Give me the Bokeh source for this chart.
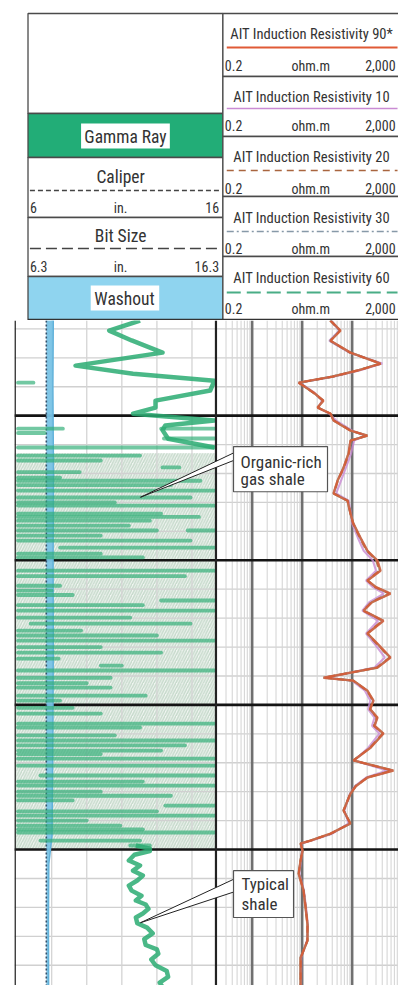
import math
from bokeh.plotting import figure
from bokeh.layouts import column
from bokeh.models import Range1d, LogScale
from bokeh.core.properties import value
from bokeh.embed import file_html
from bokeh.resources import INLINE

FONT = "'Roboto Condensed', 'Liberation Sans Narrow', 'DejaVu Sans Condensed', sans-serif"
NaN = float("nan")

# ---------------- data ----------------
# Gamma ray (API) vs depth (ft): continuous curve above and below the gas shale
gr_depth = [
    5017.1, 5020.6, 5024.0, 5028.2, 5032.7, 5035.5, 5037.9, 5041.3, 5044.8, 5047.2, 5049.3, 5051.7,
    5053.4, 5055.0, 5058.0, 5061.0, NaN,
    5198.6, 5199.7, 5200.5, 5201.8, 5203.8, 5205.5, 5207.3, 5209.0, 5210.7, 5212.5, 5214.2, 5216.0,
    5217.6, 5219.0, 5220.5, 5222.1, 5223.5, 5225.5, 5227.0, 5229.0, 5231.0, 5233.0, 5234.5, 5236.0,
    5238.0, 5240.0, 5242.0, 5244.0, 5246.0, 5247.5]
gr_api = [
    88, 66, 82, 104, 42, 83, 141, 138, 99, 99, 83, 141,
    106, 104, 108, 141, NaN,
    85, 95, 95, 84, 80, 88, 83, 90, 86, 80, 82, 89,
    85, 92, 94, 90, 85, 86, 93, 97, 91, 92, 100, 101,
    96, 99, 107, 108, 102, 104]
# gamma-ray streaks in the organic-rich shale (off-scale / wrapped readings)
streak_depth = [5038.6, 5054.5, 5054.5, 5057.9, 5061.0, 5063.8, 5067.9, 5071.4, 5072.5, 5075.9,
                5078.3, 5081.1, 5083.9, 5086.3, 5089.7, 5089.7, 5093.2, 5095.6, 5097.7,
                5103.6, 5108.8, 5110.5, 5113.9, 5117.4, 5119.8, 5121.9, 5124.3, 5127.8, 5131.9,
                5136.4, 5138.1, 5140.6, 5144.0, 5146.8, 5148.5,
                5153.0, 5156.5, 5157.8, 5162.3, 5165.8, 5168.6, 5171.0, 5174.4, 5177.9, 5181.4,
                5184.8, 5188.3, 5191.7, 5194.1, 5196.9, 5198.6,
                5056.0, 5065.5, 5069.5, 5074.0, 5080.0, 5085.0, 5088.0, 5091.5, 5099.0,
                5105.5, 5112.0, 5115.5, 5126.0, 5130.0, 5134.0, 5142.5, 5151.0, 5160.5,
                5164.0, 5167.0, 5176.5, 5180.0, 5183.0, 5186.8, 5190.0, 5193.0]
streak_from = [1, 1, 103, 105, 1, 1, 104, 1, 1, 1,
               1, 1, 1, 1, 1, 122, 1, 31, 1,
               1, 1, 1, 103, 1, 1, 10, 1, 1, 1,
               60, 1, 1, 1, 1, 1,
               1, 1, 1, 1, 1, 1, 1, 17, 1, 1,
               106, 1, 1, 1, 17, 81,
               1, 1, 1, 1, 1, 1, 1, 1, 1,
               1, 1, 1, 1, 1, 1, 1, 1, 1,
               1, 1, 1, 1, 1, 1, 1, 1]
streak_to = [12, 33, 141, 141, 141, 88, 116, 31, 131, 141,
             124, 141, 103, 95, 100, 141, 124, 141, 60,
             141, 31, 25, 141, 141, 81, 124, 46, 141, 103,
             75, 141, 67, 67, 92, 31,
             60, 141, 88, 141, 103, 141, 141, 141, 141, 110,
             141, 141, 74, 141, 88, 95,
             20, 60, 45, 110, 70, 130, 80, 60, 90,
             120, 40, 90, 100, 60, 30, 50, 40, 70,
             120, 60, 90, 60, 40, 100, 50, 90]

# Caliper (in) and bit size (in)
cal_depth = [5017, 5040, 5070, 5100, 5130, 5160, 5195, 5205, 5225, 5248]
cal_in = [7.92, 7.90, 7.93, 7.91, 7.92, 7.90, 7.86, 7.70, 7.68, 7.69]
bit_size_in = 7.875

# AIT induction resistivities (ohm.m)
res_depth = [
    5017.1, 5020.6, 5024.1, 5028.2, 5032.0, 5034.4, 5036.5, 5038.6, 5042.0, 5044.8,
    5047.2, 5049.3, 5051.7, 5055.2, 5056.9, 5058.6, 5063.1, 5068.0, 5072.5, 5076.9,
    5079.4, 5083.9, 5087.3, 5092.2, 5096.7, 5100.1, 5103.6, 5107.0, 5109.3, 5111.5,
    5114.5, 5117.4, 5120.9, 5125.3, 5129.5, 5133.6, 5137.1, 5140.6, 5141.6, 5145.1,
    5148.5, 5151.5, 5154.4, 5157.2, 5159.9, 5164.8, 5169.2, 5172.7, 5175.1, 5178.0,
    5180.7, 5186.5, 5191.0, 5194.5, 5196.9, 5197.9, 5200.3, 5203.8, 5208.3, 5214.0,
    5220.1, 5226.0, 5231.5, 5237.4, 5248.0]
r90 = [36.9, 58.5, 36.9, 92.7, 369, 128, 40, 8.5, 16.9, 26.7,
       20.3, 36.9, 42.4, 92.7, 203, 92.7, 84.5, 67.1, 50.9, 42.4,
       80.7, 92.7, 106, 147, 203, 321, 369, 203, 300, 585,
       250, 169, 424, 203, 350, 585, 321, 26.7, 106, 203,
       267, 230, 321, 280, 424, 233, 106, 671, 203, 120,
       92.7, 67.1, 92.7, 36.9, 14.7, 9.3, 10.2, 9.3, 8.5, 10.6,
       11.7, 12.8, 12.8, 9.3, 9.3]
r10 = [38, 55, 35, 88, 400, 140, 42, 9.0, 17.5, 25,
       21, 35, 48, 100, 180, 110, 95, 75, 60, 48,
       85, 95, 100, 130, 170, 260, 300, 190, 260, 430,
       220, 160, 330, 190, 300, 450, 280, 30, 100, 180,
       230, 210, 280, 250, 350, 210, 110, 500, 190, 115,
       90, 70, 85, 40, 15.5, 9.6, 10.0, 9.5, 8.8, 10.8,
       12.0, 13.0, 12.5, 9.6, 9.5]
r20 = [36, 57, 37, 90, 380, 125, 41, 8.7, 16.5, 26,
       20.5, 37, 44, 95, 195, 95, 86, 68, 52, 43,
       82, 93, 104, 142, 195, 305, 350, 200, 290, 540,
       240, 166, 400, 200, 335, 560, 310, 27.5, 104, 198,
       258, 226, 310, 272, 405, 228, 106, 630, 200, 118,
       91, 68, 91, 37.5, 14.9, 9.4, 10.1, 9.3, 8.6, 10.7,
       11.8, 12.8, 12.7, 9.4, 9.3]
r30 = [37.5, 57, 36, 91, 375, 127, 40, 8.6, 16.7, 26.2,
       20.4, 36.5, 43, 94, 198, 94, 85, 68, 51, 43,
       81, 93, 105, 145, 198, 312, 358, 201, 295, 560,
       245, 168, 410, 201, 340, 570, 315, 27, 105, 200,
       262, 228, 315, 276, 415, 230, 106, 650, 201, 119,
       92, 67.5, 92, 37, 14.8, 9.35, 10.15, 9.3, 8.55, 10.65,
       11.75, 12.8, 12.75, 9.35, 9.3]
r60 = [37, 58, 36.5, 92, 365, 128, 40, 8.55, 16.8, 26.5,
       20.3, 36.8, 42.5, 93, 201, 93, 84.5, 67, 51, 42.5,
       80.5, 92.5, 106, 146, 201, 318, 365, 203, 298, 575,
       248, 169, 418, 203, 346, 580, 320, 26.8, 106, 202,
       265, 230, 318, 279, 420, 232, 106, 660, 203, 120,
       92.7, 67, 92.7, 37, 14.7, 9.3, 10.2, 9.3, 8.5, 10.6,
       11.7, 12.8, 12.8, 9.3, 9.3]

# organic-rich shale interval (hatched)
shale_top, shale_bottom = 5063.0, 5199.7

# grid definitions
depth_minor = list(range(5020, 5250, 10))
depth_major = [5050, 5100, 5150, 5200]
gr_grid = [25, 50, 75, 100, 125]
res_minor = [0.3, 0.4, 0.5, 0.6, 0.7, 0.8, 0.9,
             2, 3, 4, 5, 6, 7, 8, 9,
             20, 30, 40, 50, 60, 70, 80, 90,
             200, 300, 400, 500, 600, 700, 800]
res_major = [1, 10, 100]

# header texts
left_titles = ["Gamma Ray", "Caliper", "Bit Size", "Washout"]
res_titles = ["AIT Induction Resistivity 90*", "AIT Induction Resistivity 10",
              "AIT Induction Resistivity 20", "AIT Induction Resistivity 30",
              "AIT Induction Resistivity 60"]
res_scale = ["0.2", "ohm.m", "2,000"]
cal_scale = ["6", "in.", "16"]
bit_scale = ["6.3", "in.", "16.3"]

# ---------------- layout constants ----------------
W = 398
HDR_H = 320
TRK_H = 665
depth_top, depth_bot = 5017.1, 5247.0
GR_MIN, GR_MAX = -1.5, 272.2        # full frame width in GR units
GR_TRACK_END = 142.1                # track divider in GR units
CAL_RANGE = (6.0, 25.01)
BIT_RANGE = (6.3, 25.31)
RES_RANGE = (1.766e-5, 845.4)

res_colors = ["#e05a36", "#c98bd3", "#a9653f", "#8799a8", "#49ad86"]
res_dashes = ["solid", "solid", "7 5", "7 3 2 3", "14 6"]

# ---------------- header figure ----------------
hdr = figure(width=W, height=HDR_H, x_range=Range1d(0, 398), y_range=Range1d(320, 0),
             output_backend="svg", toolbar_location=None, min_border=0,
             x_axis_location=None, y_axis_location=None, outline_line_color=None)
hdr.grid.visible = False

BORDER = "#4a4a4a"
l_tops = [13, 113, 157, 217, 276]
l_bots = [113, 157, 217, 276, 320]
l_fill = ["white", "#22ad77", "white", "white", "#8fd4ef"]
hdr.quad(left=14, right=216, top=l_tops, bottom=l_bots, fill_color=l_fill,
         line_color=BORDER, line_width=1.3)
r_tops = [13, 76, 136, 196, 256]
r_bots = [76, 136, 196, 256, 320]
hdr.quad(left=216, right=402, top=r_tops, bottom=r_bots, fill_color="white",
         line_color=BORDER, line_width=1.3)

# white label boxes
hdr.quad(left=[69, 79], right=[161, 150], top=[123, 285], bottom=[148, 310],
         fill_color="white", line_color=None)

tkw = dict(text_font=value(FONT), text_color="#333333", text_baseline="middle")
hdr.text(x=[115, 110, 110, 114], y=[136, 176, 235, 298], text=left_titles,
         text_align="center", text_font_size="17.5px", **tkw)
# caliper & bit size legend lines
hdr.line(x=[16, 212], y=[190, 190], line_color="#444444", line_width=1.5, line_dash="5 3")
hdr.line(x=[16, 212], y=[248, 248], line_color="#444444", line_width=1.5, line_dash="11 5")
for yy, lab in [(207, cal_scale), (266, bit_scale)]:
    hdr.text(x=[16], y=[yy], text=[lab[0]], text_align="left", text_font_size="14px", **tkw)
    hdr.text(x=[110], y=[yy], text=[lab[1]], text_align="center", text_font_size="14px", **tkw)
    hdr.text(x=[212], y=[yy], text=[lab[2]], text_align="right", text_font_size="14px", **tkw)

title_y = [33, 96, 156, 217, 277]
line_y = [47, 108, 170, 231, 292]
scale_y = [65, 125, 188, 248, 308]
hdr.text(x=[308] * 5, y=title_y, text=res_titles, text_align="center",
         text_font_size="14.6px", **tkw)
for i in range(5):
    hdr.line(x=[220, 397], y=[line_y[i], line_y[i]], line_color=res_colors[i],
             line_width=2 if i in (0, 4) else 1.5, line_dash=res_dashes[i])
    hdr.text(x=[218], y=[scale_y[i]], text=[res_scale[0]], text_align="left",
             text_font_size="14px", **tkw)
    hdr.text(x=[307], y=[scale_y[i]], text=[res_scale[1]], text_align="center",
             text_font_size="14px", **tkw)
    hdr.text(x=[395], y=[scale_y[i]], text=[res_scale[2]], text_align="right",
             text_font_size="14px", **tkw)
hdr.line(x=[14, 398], y=[319.3, 319.3], line_color="#333333", line_width=2)

# ---------------- track figure ----------------
trk = figure(width=W, height=TRK_H, x_range=Range1d(GR_MIN, GR_MAX),
             y_range=Range1d(depth_bot, depth_top),
             output_backend="svg", toolbar_location=None, min_border=0, min_border_left=14,
             x_axis_location=None, y_axis_location=None, outline_line_color=None)
trk.grid.visible = False
trk.extra_x_ranges = {"cal": Range1d(*CAL_RANGE), "bit": Range1d(*BIT_RANGE),
                      "res": Range1d(*RES_RANGE)}
trk.extra_x_scales = {"res": LogScale()}

# hatched organic-rich interval in the gamma-ray track
trk.quad(left=[GR_MIN], right=[GR_TRACK_END], top=[shale_top], bottom=[shale_bottom],
         fill_color="#f1f5f2", line_color=None, hatch_pattern="/",
         hatch_color="#c6dacb", hatch_weight=1.5, hatch_scale=5.5)

# thin grid
trk.segment(x0=GR_MIN, x1=GR_MAX, y0=depth_minor, y1=depth_minor,
            line_color="#d0d0d0", line_width=1.3)
trk.segment(x0=gr_grid, x1=gr_grid, y0=depth_top, y1=depth_bot,
            line_color="#d4d4d4", line_width=1.3)
trk.segment(x0=res_minor, x1=res_minor, y0=depth_top, y1=depth_bot,
            line_color="#d6d6d6", line_width=1.1, x_range_name="res")
trk.segment(x0=res_major, x1=res_major, y0=depth_top, y1=depth_bot,
            line_color="#707070", line_width=2.6, x_range_name="res")
trk.segment(x0=GR_MIN, x1=GR_MAX, y0=depth_major, y1=depth_major,
            line_color="#141414", line_width=2.6)

# washout shading between bit size and caliper (bit size expressed on caliper scale)
bit_on_cal = bit_size_in - (BIT_RANGE[0] - CAL_RANGE[0])
trk.harea(x1=bit_on_cal, x2=cal_in, y=cal_depth, x_range_name="cal",
          fill_color="#79c3e6", fill_alpha=0.95)
trk.line(x=cal_in, y=cal_depth, x_range_name="cal", line_color="#62b2da",
         line_width=1.5)
trk.line(x=[bit_size_in, bit_size_in], y=[depth_top, depth_bot], x_range_name="bit",
         line_color="#34506a", line_width=1.6, line_dash="2 2")

# gamma ray
trk.segment(x0=streak_from, x1=streak_to, y0=streak_depth, y1=streak_depth,
            line_color="#2fae76", line_width=3.8, line_alpha=0.68, line_cap="round")
trk.line(x=gr_api, y=gr_depth, line_color="#2aab72", line_width=4.5, line_alpha=0.85,
         line_join="round")

# resistivities
for series, ci in [(r10, 1), (r60, 4), (r30, 3), (r20, 2), (r90, 0)]:
    trk.line(x=series, y=res_depth, x_range_name="res", line_color=res_colors[ci],
             line_width=2.4 if ci == 0 else 2.1, line_alpha=0.8,
             line_dash=res_dashes[ci] if ci in (2, 3) else "solid")

# track borders
trk.segment(x0=[GR_MIN + 0.4, GR_TRACK_END], x1=[GR_MIN + 0.4, GR_TRACK_END],
            y0=depth_top, y1=depth_bot, line_color="#222222", line_width=[1.6, 2.2])

# callouts
callouts = [
    dict(tip=(88.3, 5078.2), base=(154.6, 5062.9, 5065.5),
         box=(154.6, 221.6, 5060.7, 5076.3), text=["Organic-rich", "gas shale"],
         tx=159.6, ty=[5065.9, 5071.8]),
    dict(tip=(88.3, 5225.3), base=(154.6, 5210.3, 5214.7),
         box=(154.6, 197.4, 5207.3, 5223.5), text=["Typical", "shale"],
         tx=160.3, ty=[5211.8, 5218.7]),
]
for c in callouts:
    trk.patch(x=[c["tip"][0], c["base"][0], c["base"][0]],
              y=[c["tip"][1], c["base"][1], c["base"][2]],
              fill_color="white", line_color="#222222", line_width=1)
    trk.quad(left=[c["box"][0]], right=[c["box"][1]], top=[c["box"][2]],
             bottom=[c["box"][3]], fill_color="white", line_color="#555555", line_width=1.2)
    trk.text(x=[c["tx"]] * 2, y=c["ty"], text=c["text"], text_align="left",
             text_font_size="17px", **tkw)

layout = column(hdr, trk, spacing=0)
open("out.html", "w").write(file_html(layout, INLINE))
